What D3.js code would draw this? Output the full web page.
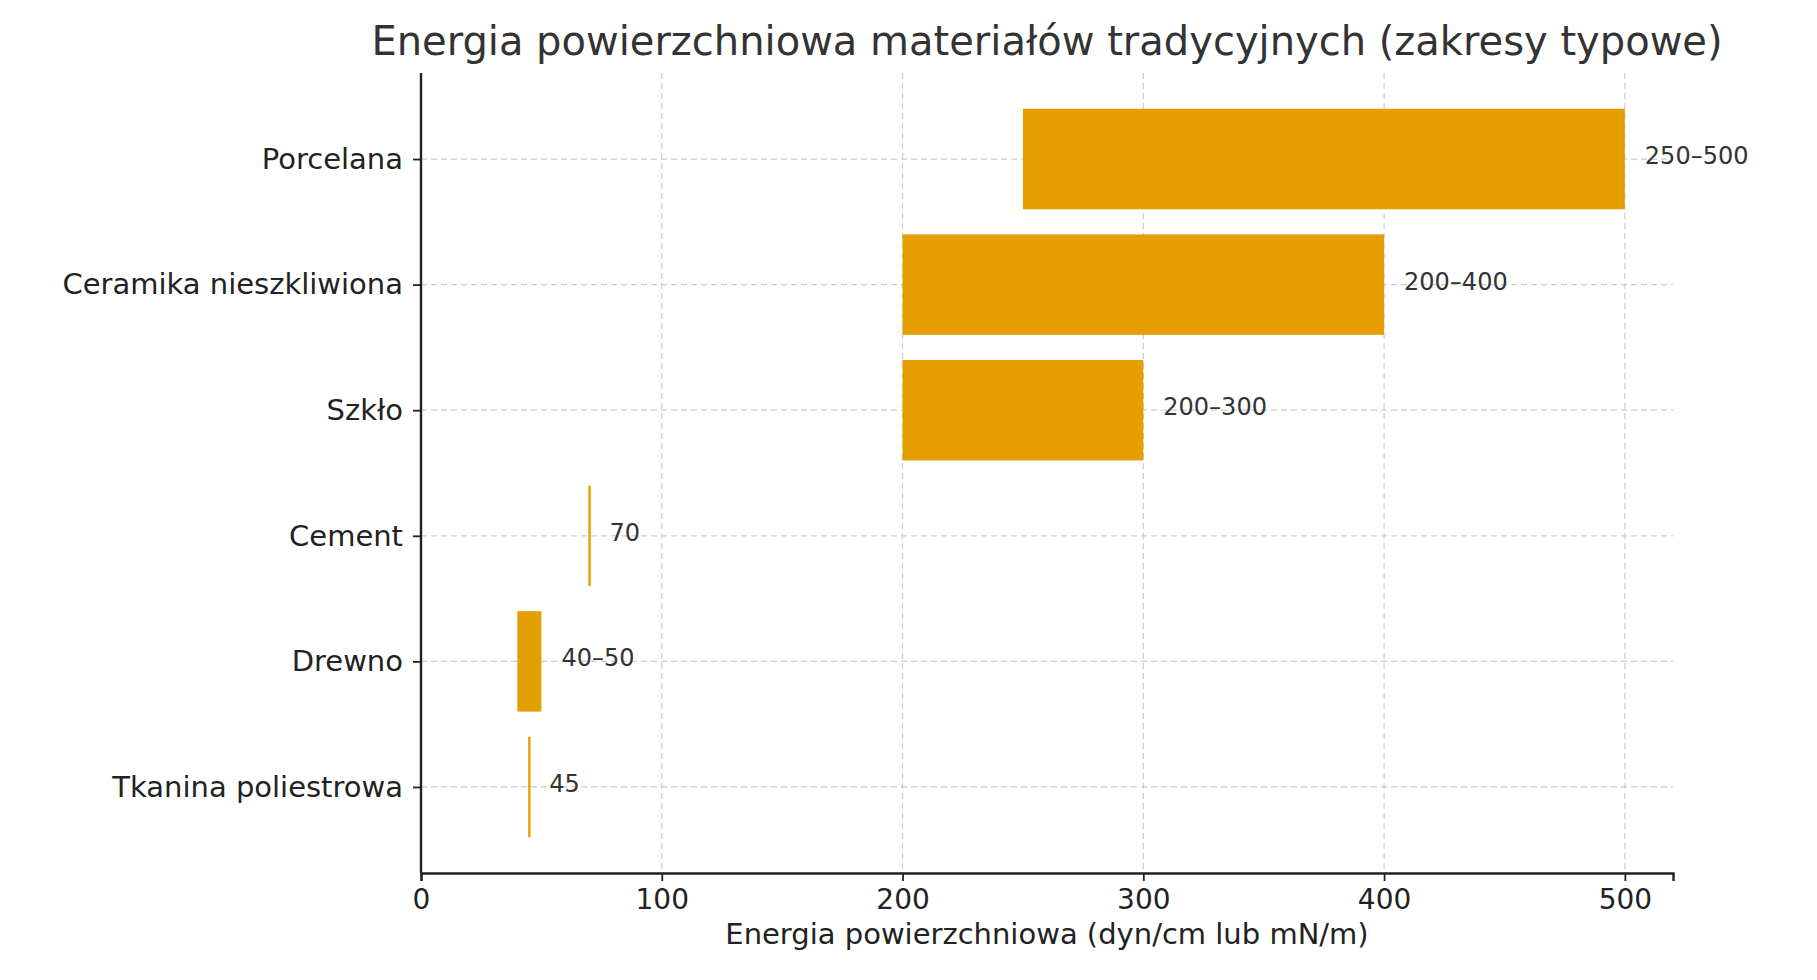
<!DOCTYPE html>
<html><head><meta charset="utf-8">
<script src="https://cdn.jsdelivr.net/npm/d3@7"></script>
<style>body{margin:0;background:#fff}text{font-family:"DejaVu Sans",sans-serif}</style>
</head><body><svg id="c" width="1817" height="980"></svg>
<script>
const categories=["Tkanina poliestrowa","Drewno","Cement","Szkło","Ceramika nieszkliwiona","Porcelana"];
const minVals=[45,40,70,200,200,250];
const maxVals=[45,50,70,300,400,500];
const labels=["45","40–50","70","200–300","200–400","250–500"];
const xTicks=[0,100,200,300,400,500];
const svg=d3.select("#c");
const x=d3.scaleLinear().domain([0,520]).range([421,1673]);
const y=d3.scaleLinear().domain([-0.685,5.685]).range([873,73]);
const bh=y(0)-y(0.8);
const g=svg.append("g");
// grid
g.selectAll(".gx").data(xTicks.slice(1)).join("line").attr("x1",d=>x(d)).attr("x2",d=>x(d)).attr("y1",73).attr("y2",873)
 .attr("stroke","#ccc").attr("stroke-dasharray","6,4").attr("stroke-width",1.2);
g.selectAll(".gy").data(categories).join("line").attr("x1",421).attr("x2",1673).attr("y1",(d,i)=>y(i)).attr("y2",(d,i)=>y(i))
 .attr("stroke","#ccc").attr("stroke-dasharray","6,4").attr("stroke-width",1.2);
// bars
g.selectAll(".b").data(categories).join("rect")
 .attr("x",(d,i)=>x(minVals[i])-(maxVals[i]===minVals[i]?1.2:0))
 .attr("width",(d,i)=>Math.max(2.4,x(maxVals[i])-x(minVals[i])))
 .attr("y",(d,i)=>y(i)-bh/2).attr("height",bh).attr("fill","#E69F00");
g.selectAll(".l").data(categories).join("text").attr("x",(d,i)=>x(maxVals[i])+20).attr("y",(d,i)=>y(i)-2)
 .attr("dominant-baseline","middle").attr("font-size",24).attr("fill","#333").text((d,i)=>labels[i]);
// axes
const xa=svg.append("g").attr("transform","translate(0,873)").call(d3.axisBottom(x).tickValues(xTicks).tickSize(8).tickPadding(8));
xa.select(".domain").attr("stroke","#222").attr("stroke-width",2.4);
xa.selectAll(".tick line").attr("stroke","#222").attr("stroke-width",1.8);
xa.selectAll("text").attr("font-size",28).attr("fill","#222").attr("font-family","DejaVu Sans");
const ya=svg.append("g").attr("transform","translate(421,0)").call(d3.axisLeft(y).tickValues(d3.range(categories.length)).tickFormat(i=>categories[i]).tickSize(8).tickPadding(10));
ya.select(".domain").attr("d","M0,73V873").attr("stroke","#222").attr("stroke-width",2.4);
ya.selectAll(".tick line").attr("stroke","#222").attr("stroke-width",1.8);
ya.selectAll("text").attr("font-size",29).attr("fill","#222").attr("font-family","DejaVu Sans");
svg.append("text").attr("x",1047).attr("y",944).attr("text-anchor","middle").attr("font-size",29).attr("fill","#222").text("Energia powierzchniowa (dyn/cm lub mN/m)");
svg.append("text").attr("x",1047).attr("y",55).attr("text-anchor","middle").attr("font-size",40).attr("fill","#333").text("Energia powierzchniowa materiałów tradycyjnych (zakresy typowe)");
</script></body></html>
